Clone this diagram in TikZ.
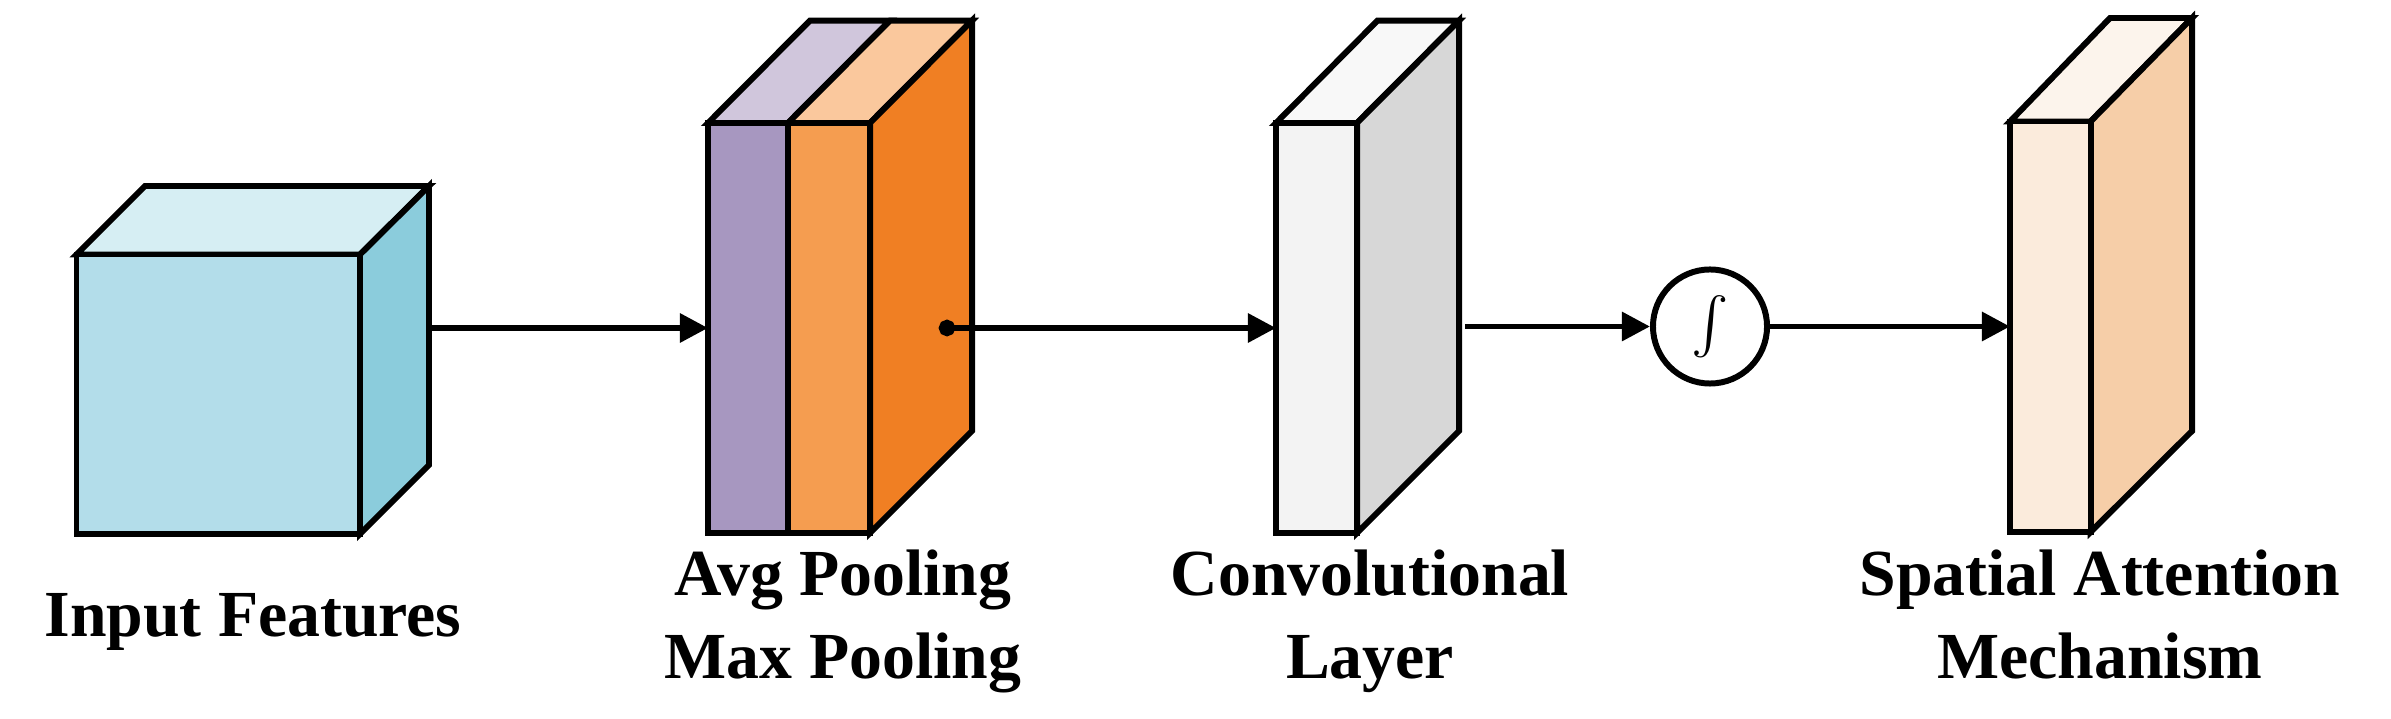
\documentclass[tikz,border=0pt]{standalone}
\usepackage{fontspec}
\setmainfont{Liberation Serif}
\usetikzlibrary{arrows.meta}
\definecolor{cF}{HTML}{B3DDEA}\definecolor{cT}{HTML}{D6EEF3}\definecolor{cS}{HTML}{8BCCDC}
\definecolor{pF}{HTML}{A797C0}\definecolor{pT}{HTML}{D0C6DC}
\definecolor{oF}{HTML}{F59D50}\definecolor{oT}{HTML}{FAC89D}\definecolor{oS}{HTML}{F07F23}
\definecolor{gF}{HTML}{F3F3F3}\definecolor{gT}{HTML}{F8F8F8}\definecolor{gS}{HTML}{D7D7D7}
\definecolor{sF}{HTML}{FBEBDC}\definecolor{sT}{HTML}{FCF4EC}\definecolor{sS}{HTML}{F6CEA8}
\begin{document}
\begin{tikzpicture}[x=0.01cm,y=-0.01cm,
  face/.style={draw=black,line width=1.7pt,line join=miter},
  conn/.style={line width=1.7pt,-{Triangle[length=8pt,width=8pt]}},
  lab/.style={font=\fontsize{18.7}{23}\selectfont\bfseries,align=center,inner sep=0pt,anchor=base}]
\useasboundingbox (0,0) rectangle (2391,719);
% input cube
\filldraw[face,fill=cT] (76.5,254.5)--(145,186)--(429,186)--(360,254.5)--cycle;
\filldraw[face,fill=cS] (360,254.5)--(429,186)--(429,465)--(360,534)--cycle;
\filldraw[face,fill=cF] (76.5,254.5) rectangle (360,534);
\coordinate (in) at (429,328);
% pooling
\filldraw[face,fill=pT] (708,123)--(810,20.6)--(890,20.6)--(788,123)--cycle;
\filldraw[face,fill=oT] (788,123)--(890,20.6)--(972,20.6)--(870,123)--cycle;
\filldraw[face,fill=oS] (870,123)--(972,20.6)--(972,431)--(870,533)--cycle;
\filldraw[face,fill=pF] (708,123) rectangle (788,533);
\filldraw[face,fill=oF] (788,123) rectangle (870,533);
\coordinate (poolL) at (708,328);
\coordinate (poolC) at (947,328);
% conv
\filldraw[face,fill=gT] (1276,123)--(1377.5,20.6)--(1459,20.6)--(1357,123)--cycle;
\filldraw[face,fill=gS] (1357,123)--(1459,20.6)--(1459,431)--(1357,533)--cycle;
\filldraw[face,fill=gF] (1276,123) rectangle (1357,533);
\coordinate (convL) at (1276,328);
\coordinate (convR) at (1465,326.5);
% sigma
\node[draw,circle,line width=1.7pt,minimum size=114\pgflinewidth*0+3.23cm*0+1.14cm,inner sep=0pt] (sig) at (1710,326.5) {\scalebox{1.6}{$\int$}};
% SAM
\filldraw[face,fill=sT] (2010,121.5)--(2110,18)--(2192,18)--(2090.6,121.5)--cycle;
\filldraw[face,fill=sS] (2090.6,121.5)--(2192,18)--(2192,431)--(2090.6,532)--cycle;
\filldraw[face,fill=sF] (2010,121.5) rectangle (2090.6,532);
\coordinate (samL) at (2010,326.5);
% connectors
\draw[conn] (in) -- (poolL);
\draw[line width=1.7pt,fill] (poolC) circle (1.5pt);
\draw[conn] (poolC) -- (convL);
\draw[conn] (convR) -- (sig.west);
\draw[conn] (sig.east) -- (samL);
% labels
\node[lab] (t1) at (253,637) {Input Features};
\node[lab] (t2) at (843,596) {Avg Pooling};
\node[lab] (t3) at (843,679) {Max Pooling};
\node[lab] (t4) at (1370,596) {Convolutional};
\node[lab] (t5) at (1370,679) {Layer};
\node[lab] (t6) at (2100,596) {Spatial Attention};
\node[lab] (t7) at (2100,679) {Mechanism};
\end{tikzpicture}
\end{document}
